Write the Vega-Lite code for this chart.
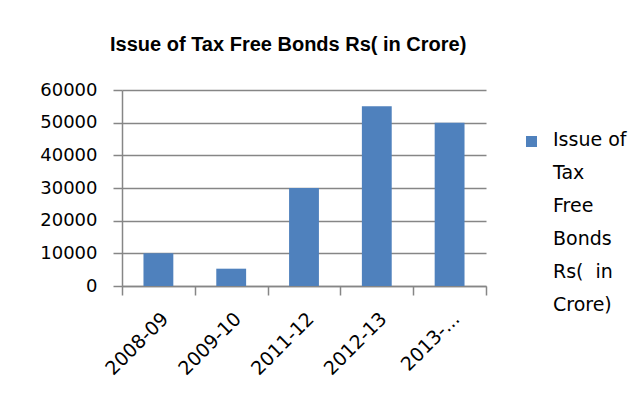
{
  "$schema": "https://vega.github.io/schema/vega-lite/v6.json",
  "width": 364,
  "height": 196,
  "autosize": "none",
  "padding": {"left": 122, "top": 90, "right": 153, "bottom": 133},
  "background": "white",
  "view": {"stroke": null},
  "title": {
    "text": "Issue of Tax Free Bonds Rs( in Crore)",
    "font": "Liberation Sans",
    "fontSize": 20,
    "fontWeight": "bold",
    "color": "#000000",
    "anchor": "start",
    "frame": "group",
    "dx": -12,
    "baseline": "alphabetic",
    "offset": 10
  },
  "data": {
    "values": [
      {"year": "2008-09", "value": 10000, "series": "Issue of Tax Free Bonds Rs( in Crore)"},
      {"year": "2009-10", "value": 5300, "series": "Issue of Tax Free Bonds Rs( in Crore)"},
      {"year": "2011-12", "value": 30000, "series": "Issue of Tax Free Bonds Rs( in Crore)"},
      {"year": "2012-13", "value": 55000, "series": "Issue of Tax Free Bonds Rs( in Crore)"},
      {"year": "2013-...", "value": 50000, "series": "Issue of Tax Free Bonds Rs( in Crore)"}
    ]
  },
  "mark": {"type": "bar", "width": {"band": 0.41}},
  "encoding": {
    "x": {
      "field": "year",
      "type": "nominal",
      "sort": null,
      "scale": {"paddingInner": 0, "paddingOuter": 0},
      "axis": {
        "title": null,
        "grid": false,
        "domainColor": "#868686",
        "domainWidth": 1.5,
        "tickColor": "#868686",
        "tickWidth": 1.5,
        "tickSize": 9,
        "tickBand": "extent",
        "labelAngle": -45,
        "labelFont": "DejaVu Sans",
        "labelFontSize": 19,
        "labelColor": "#000000",
        "labelPadding": 14
      }
    },
    "y": {
      "field": "value",
      "type": "quantitative",
      "scale": {"domain": [0, 60000]},
      "axis": {
        "title": null,
        "values": [0, 10000, 20000, 30000, 40000, 50000, 60000],
        "format": "d",
        "grid": true,
        "gridColor": "#868686",
        "gridWidth": 1.5,
        "domainColor": "#868686",
        "domainWidth": 1.5,
        "tickColor": "#868686",
        "tickWidth": 1.5,
        "tickSize": 9,
        "labelPadding": 16,
        "labelFont": "DejaVu Sans",
        "labelFontSize": 18,
        "labelColor": "#000000"
      }
    },
    "color": {
      "field": "series",
      "type": "nominal",
      "scale": {"range": ["#4F81BD"]},
      "legend": {
        "title": null,
        "orient": "none",
        "legendX": 400,
        "legendY": 42,
        "padding": 0,
        "symbolType": "square",
        "symbolSize": 121,
        "symbolStrokeWidth": 0,
        "labelOffset": 12,
        "labelLimit": 500,
        "labelFont": "DejaVu Sans",
        "labelFontSize": 19,
        "labelColor": "#000000",
        "labelBaseline": "top",
        "labelExpr": "['Issue of', 'Tax', 'Free', 'Bonds', 'Rs(\u00a0 in', 'Crore)']",
        "encode": {
          "labels": {"update": {"lineHeight": {"value": 33}, "dy": {"value": -11}}}
        }
      }
    }
  }
}
